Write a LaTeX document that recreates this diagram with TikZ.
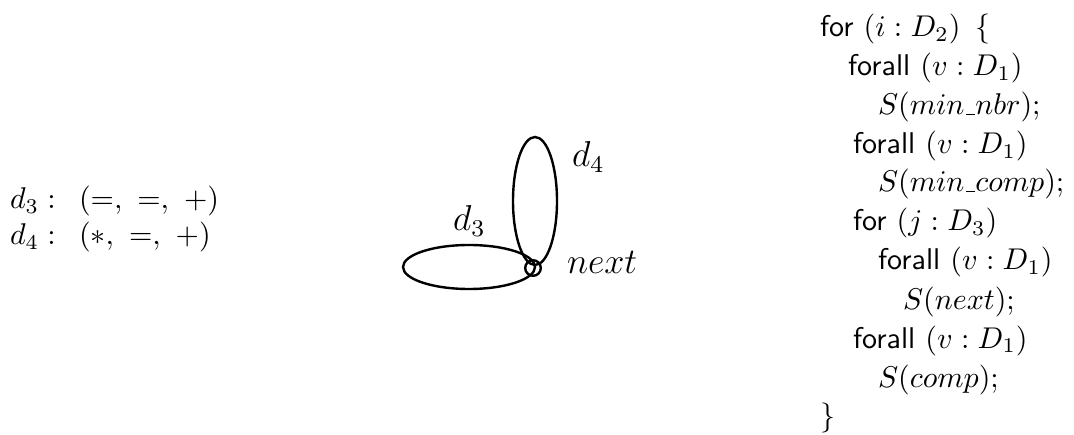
\documentclass[tikz,border=0pt]{standalone}
\usetikzlibrary{calc}
\newcommand{\us}{\kern.06em\vbox{\hrule width.3em}}
\begin{document}
\begin{tikzpicture}[x=0.3333pt,y=-0.3333pt,
  txt/.style={anchor=base west,inner sep=0pt,outer sep=0pt},
  lbl/.style={anchor=base west,inner sep=0pt,outer sep=0pt,font=\large},
  loopline/.style={line width=0.8pt},
  vtx/.style={circle,draw,line width=0.8pt,minimum size=5.2pt,inner sep=0pt}]
\useasboundingbox (0,0) rectangle (1074,435);
% left: direction vectors
\node[txt] (dv3) at (10,209) {$d_3 :\ \,(=,\ =,\ +)$};
\node[txt] (dv4) at (10,245) {$d_4 :\ \,(*,\ =,\ +)$};
% middle: graph
\node[vtx] (n) at (533,268) {};
\draw[loopline] ($(n.center)+(-64,-1)$) ellipse [x radius=66,y radius=22];
\draw[loopline] ($(n.center)+(2,-67)$) ellipse [x radius=22,y radius=64];
\node[lbl] (l3) at (453,231) {$d_3$};
\node[lbl] (l4) at (572,167) {$d_4$};
\node[lbl] (ln) at (567,274) {$next$};
% right: code
\node[txt] (c0) at (820,37) {\textsf{for} $(i : D_2)\ \,\{$};
\node[txt] (c1) at (848,76) {\textsf{forall} $(v : D_1)$};
\node[txt] (c2) at (878,115) {$S(min\us nbr);$};
\node[txt] (c3) at (853,154) {\textsf{forall} $(v : D_1)$};
\node[txt] (c4) at (878,192) {$S(min\us comp);$};
\node[txt] (c5) at (853,231) {\textsf{for} $(j : D_3)$};
\node[txt] (c6) at (878,270) {\textsf{forall} $(v : D_1)$};
\node[txt] (c7) at (903,309) {$S(next);$};
\node[txt] (c8) at (853,348) {\textsf{forall} $(v : D_1)$};
\node[txt] (c9) at (878,387) {$S(comp);$};
\node[txt] (c10) at (820,425) {$\}$};
\end{tikzpicture}
\end{document}
